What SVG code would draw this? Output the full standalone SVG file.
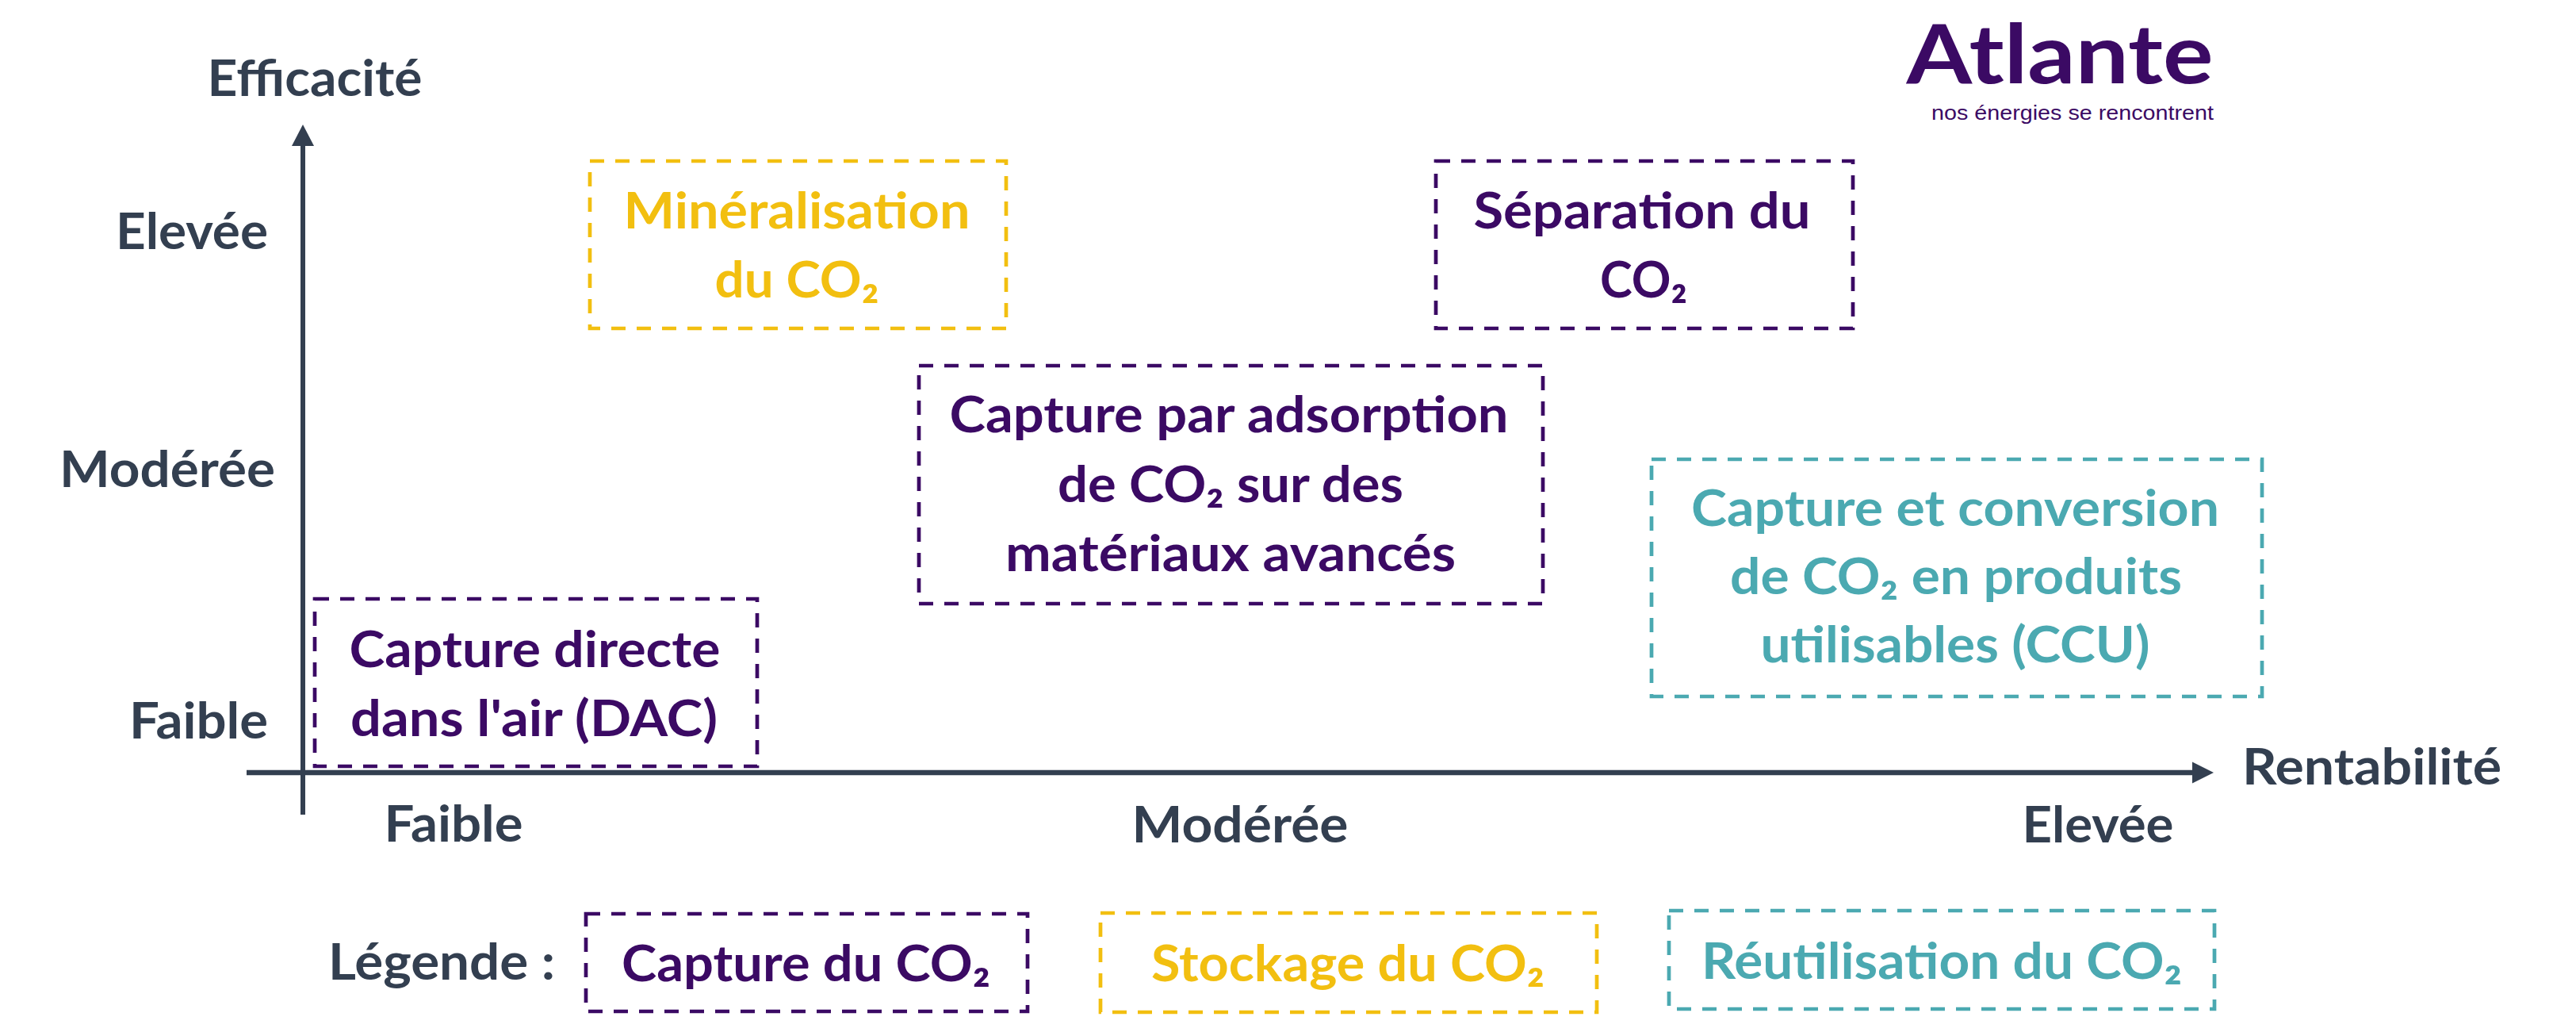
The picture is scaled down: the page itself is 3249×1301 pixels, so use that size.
<svg xmlns="http://www.w3.org/2000/svg" width="3249" height="1301" viewBox="0 0 3249 1301">
<defs>
<style>
.t{font-family:Lato,"Noto Sans","DejaVu Sans",sans-serif;font-weight:700;font-size:64px;text-anchor:middle}
.ax{fill:#333F50}
.pu{fill:#3B0A64}
.ye{fill:#F2BF10}
.te{fill:#4BA9B1}
.b{fill:none;stroke-width:4.7;stroke-dasharray:18 14}
.bp{stroke:#3B0A64}
.by{stroke:#F2BF10}
.bt{stroke:#4BA9B1}
</style>
</defs>
<rect width="3249" height="1301" fill="#FFFFFF"/>
<g id="axes">
<line x1="382" y1="1027" x2="382" y2="180" stroke="#333F50" stroke-width="6"/>
<polygon points="382,157 396,184 368,184" fill="#333F50"/>
<line x1="311" y1="974" x2="2768" y2="974" stroke="#333F50" stroke-width="6.5"/>
<polygon points="2792,974 2765,960.5 2765,987.5" fill="#333F50"/>
</g>
<g id="axis-labels">
<text class="t ax" x="397" y="121" textLength="271" lengthAdjust="spacingAndGlyphs">Efficacité</text>
<text class="t ax" x="242" y="314" textLength="192" lengthAdjust="spacingAndGlyphs">Elevée</text>
<text class="t ax" x="211" y="614" textLength="272" lengthAdjust="spacingAndGlyphs">Modérée</text>
<text class="t ax" x="250.5" y="931" textLength="175" lengthAdjust="spacingAndGlyphs">Faible</text>
<text class="t ax" x="572" y="1061" textLength="175" lengthAdjust="spacingAndGlyphs">Faible</text>
<text class="t ax" x="1564" y="1062" textLength="273" lengthAdjust="spacingAndGlyphs">Modérée</text>
<text class="t ax" x="2646" y="1062" textLength="191" lengthAdjust="spacingAndGlyphs">Elevée</text>
<text class="t ax" x="2991.5" y="989" textLength="327" lengthAdjust="spacingAndGlyphs">Rentabilité</text>
</g>
<g id="logo">
<text x="2598" y="105" font-family="Lato,'Noto Sans',sans-serif" font-weight="700" font-size="104" text-anchor="middle" fill="#3B0A64" textLength="387" lengthAdjust="spacingAndGlyphs">Atlante</text>
<text x="2614" y="151" font-family="'Liberation Sans',Arial,sans-serif" font-size="26" text-anchor="middle" fill="#3B0A64" textLength="356" lengthAdjust="spacingAndGlyphs">nos énergies se rencontrent</text>
</g>
<g id="node-mineralisation">
<rect class="b by" x="744" y="203" width="525" height="211"/>
<text class="t ye" x="1005" y="288" textLength="437" lengthAdjust="spacingAndGlyphs">Minéralisation</text>
<text class="t ye" x="1005" y="375" textLength="207" lengthAdjust="spacingAndGlyphs">du CO₂</text>
</g>
<g id="node-separation">
<rect class="b bp" x="1811" y="203" width="526" height="211"/>
<text class="t pu" x="2071" y="288" textLength="425" lengthAdjust="spacingAndGlyphs">Séparation du</text>
<text class="t pu" x="2073" y="375" textLength="110" lengthAdjust="spacingAndGlyphs">CO₂</text>
</g>
<g id="node-adsorption">
<rect class="b bp" x="1159" y="461" width="787" height="300"/>
<text class="t pu" x="1550" y="545" textLength="705" lengthAdjust="spacingAndGlyphs">Capture par adsorption</text>
<text class="t pu" x="1552" y="633" textLength="436" lengthAdjust="spacingAndGlyphs">de CO₂ sur des</text>
<text class="t pu" x="1552" y="720" textLength="568" lengthAdjust="spacingAndGlyphs">matériaux avancés</text>
</g>
<g id="node-ccu">
<rect class="b bt" x="2083" y="579" width="770" height="299"/>
<text class="t te" x="2466" y="663" textLength="666" lengthAdjust="spacingAndGlyphs">Capture et conversion</text>
<text class="t te" x="2467" y="749" textLength="570" lengthAdjust="spacingAndGlyphs">de CO₂ en produits</text>
<text class="t te" x="2466" y="835" textLength="491" lengthAdjust="spacingAndGlyphs">utilisables (CCU)</text>
</g>
<g id="node-dac">
<rect class="b bp" x="397" y="755" width="558" height="211"/>
<text class="t pu" x="674.5" y="841" textLength="468" lengthAdjust="spacingAndGlyphs">Capture directe</text>
<text class="t pu" x="673.5" y="928" textLength="463" lengthAdjust="spacingAndGlyphs">dans l'air (DAC)</text>
</g>
<g id="legend">
<text class="t ax" x="557" y="1235" textLength="286" lengthAdjust="spacingAndGlyphs">Légende :</text>
<g id="legend-capture">
<rect class="b bp" x="739" y="1152" width="557" height="123"/>
<text class="t pu" x="1016.5" y="1237" textLength="465" lengthAdjust="spacingAndGlyphs">Capture du CO₂</text>
</g>
<g id="legend-stockage">
<rect class="b by" x="1388" y="1151" width="626" height="125"/>
<text class="t ye" x="1700" y="1237" textLength="496" lengthAdjust="spacingAndGlyphs">Stockage du CO₂</text>
</g>
<g id="legend-reutilisation">
<rect class="b bt" x="2105" y="1148" width="688" height="124"/>
<text class="t te" x="2449" y="1234" textLength="606" lengthAdjust="spacingAndGlyphs">Réutilisation du CO₂</text>
</g>
</g>
</svg>
